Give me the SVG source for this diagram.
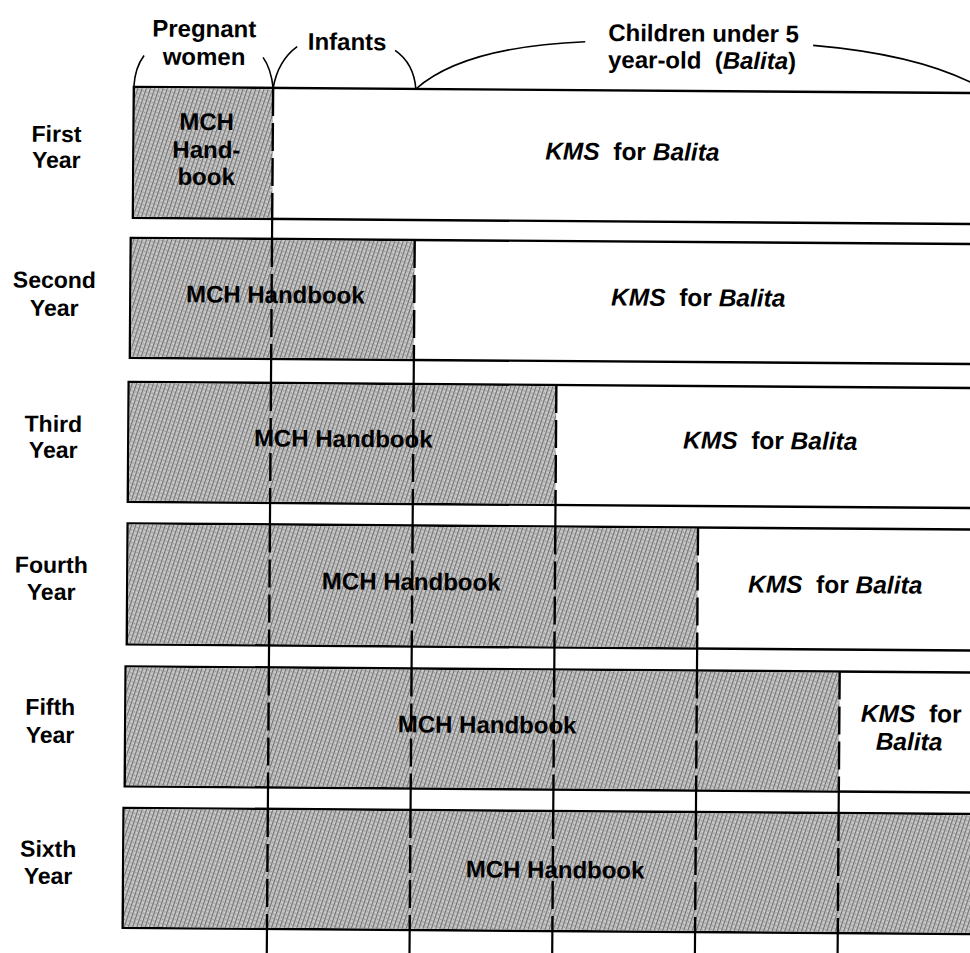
<svg xmlns="http://www.w3.org/2000/svg" width="970" height="953" viewBox="0 0 970 953">
<defs>
<pattern id="stip" width="4" height="4" patternUnits="userSpaceOnUse" patternTransform="rotate(18)">
<rect width="4" height="4" fill="#c2c2c2"/>
<line x1="0.6" y1="0" x2="0.6" y2="4" stroke="#5e5e5e" stroke-width="0.9"/>
<rect x="2.3" y="1" width="0.9" height="0.9" fill="#7a7a7a"/>
<rect x="2.6" y="3" width="0.7" height="0.7" fill="#fff"/>
</pattern>
<style>
.box{fill:#fff;stroke:#000;stroke-width:2.4}
.shade{fill:url(#stip);stroke:none}
.dash{stroke:#000;stroke-width:2.4;stroke-dasharray:28 7;fill:none}
.tick{stroke:#000;stroke-width:2.2;fill:none}
.arc{stroke:#000;stroke-width:1.6;fill:none}
text{font-family:"Liberation Sans",Arial,sans-serif;font-weight:bold;fill:#000}
.lab{font-size:23px;text-anchor:middle}
.hd{font-size:24px}
.mch{font-size:24px;text-anchor:middle}
.kms{font-size:24.5px;text-anchor:middle}
.it{font-style:italic}
</style>
</defs>
<rect width="970" height="953" fill="#fff"/>
<g transform="rotate(0.42 485 476)">
<g id="header">
<path class="arc" d="M131,89.5 Q132,70 141,58"/>
<path class="arc" d="M270.3,89.5 Q268,70 260,59"/>
<path class="arc" d="M270.3,89.5 Q275,62 294,48"/>
<path class="arc" d="M413,89.5 Q411,64 392,51"/>
<path class="arc" d="M413,89.5 Q460,47 582,41"/>
<path class="arc" d="M810,43 Q925,52 985,88"/>
<text class="hd" x="201" y="39" text-anchor="middle">Pregnant</text>
<text class="hd" x="201" y="67" text-anchor="middle">women</text>
<text class="hd" x="344" y="51" text-anchor="middle">Infants</text>
<text class="hd" x="605" y="40">Children under 5</text>
<text class="hd" x="605" y="67" xml:space="preserve">year-old  (<tspan class="it">Balita</tspan>)</text>
</g>
<g id="row1">
<rect class="box" x="131" y="89.5" width="870" height="131"/>
<rect class="shade" x="132.2" y="90.7" width="138.1" height="128.6"/>
<text class="lab" x="54" y="145">First</text>
<text class="lab" x="54" y="171">Year</text>
<text class="mch" x="204" y="132">MCH</text>
<text class="mch" x="204" y="160">Hand-</text>
<text class="mch" x="204" y="187">book</text>
<text class="kms" x="630" y="159" xml:space="preserve"><tspan class="it">KMS</tspan>  for <tspan class="it">Balita</tspan></text>
</g>
<g id="row2">
<rect class="box" x="129" y="240.5" width="870" height="120"/>
<rect class="shade" x="130.2" y="241.7" width="282.8" height="117.6"/>
<text class="lab" x="53" y="291">Second</text>
<text class="lab" x="53" y="319">Year</text>
<text class="mch" x="274" y="304.5">MCH Handbook</text>
<text class="kms" x="697" y="304.5" xml:space="preserve"><tspan class="it">KMS</tspan>  for <tspan class="it">Balita</tspan></text>
</g>
<g id="row3">
<rect class="box" x="128" y="384.5" width="870" height="120"/>
<rect class="shade" x="129.2" y="385.7" width="426.5" height="117.6"/>
<text class="lab" x="53" y="435">Third</text>
<text class="lab" x="53" y="461">Year</text>
<text class="mch" x="343" y="448">MCH Handbook</text>
<text class="kms" x="770" y="447" xml:space="preserve"><tspan class="it">KMS</tspan>  for <tspan class="it">Balita</tspan></text>
</g>
<g id="row4">
<rect class="box" x="128" y="526" width="870" height="121"/>
<rect class="shade" x="129.2" y="527.2" width="569.2" height="118.6"/>
<text class="lab" x="52" y="576">Fourth</text>
<text class="lab" x="52" y="603">Year</text>
<text class="mch" x="412" y="590.5">MCH Handbook</text>
<text class="kms" x="836" y="590.5" xml:space="preserve"><tspan class="it">KMS</tspan>  for <tspan class="it">Balita</tspan></text>
</g>
<g id="row5">
<rect class="box" x="127" y="669" width="870" height="120"/>
<rect class="shade" x="128.2" y="670.2" width="712.9" height="117.6"/>
<text class="lab" x="52" y="718">Fifth</text>
<text class="lab" x="52" y="746">Year</text>
<text class="mch" x="489" y="733">MCH Handbook</text>
<text class="kms" x="913" y="719" xml:space="preserve"><tspan class="it">KMS</tspan>  for</text>
<text class="kms it" x="911" y="747">Balita</text>
</g>
<g id="row6">
<rect class="box" x="126" y="810.5" width="870" height="120"/>
<rect class="shade" x="127.2" y="811.7" width="868" height="117.6"/>
<text class="lab" x="51" y="860">Sixth</text>
<text class="lab" x="51" y="887">Year</text>
<text class="mch" x="558" y="877.5">MCH Handbook</text>
</g>
<g id="connectors">
<path class="dash" d="M270.3,89.5V220.5 M270.3,240.5V360.5 M270.3,384.5V504.5 M270.3,526V647 M270.3,669V789 M270.3,810.5V930.5"/>
<path class="tick" d="M270.3,220.5V240.5 M270.3,360.5V384.5 M270.3,504.5V526 M270.3,647V669 M270.3,789V810.5 M270.3,930.5V965"/>
<path class="dash" d="M413,240.5V360.5 M413,384.5V504.5 M413,526V647 M413,669V789 M413,810.5V930.5"/>
<path class="tick" d="M413,360.5V384.5 M413,504.5V526 M413,647V669 M413,789V810.5 M413,930.5V965"/>
<path class="dash" d="M555.7,384.5V504.5 M555.7,526V647 M555.7,669V789 M555.7,810.5V930.5"/>
<path class="tick" d="M555.7,504.5V526 M555.7,647V669 M555.7,789V810.5 M555.7,930.5V965"/>
<path class="dash" d="M698.4,526V647 M698.4,669V789 M698.4,810.5V930.5"/>
<path class="tick" d="M698.4,647V669 M698.4,789V810.5 M698.4,930.5V965"/>
<path class="dash" d="M841.1,669V789 M841.1,810.5V930.5"/>
<path class="tick" d="M841.1,789V810.5 M841.1,930.5V965"/>
</g>
</g>
</svg>
